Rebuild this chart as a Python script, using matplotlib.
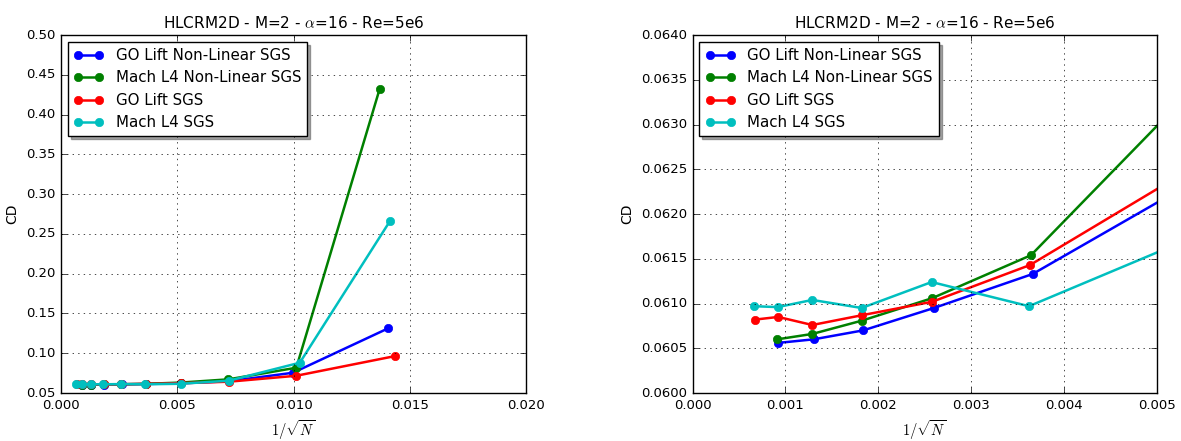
import matplotlib
matplotlib.use("Agg")
import matplotlib.pyplot as plt

plt.style.use("classic")

# 1/sqrt(N) and CD for each run
x_go_nl = [0.000922, 0.001304, 0.001838, 0.0026, 0.003664, 0.00516, 0.00722, 0.00998, 0.01407]
cd_go_nl = [0.06056, 0.06060, 0.06070, 0.06095, 0.06133, 0.06222, 0.0648, 0.0755, 0.1313]

x_mach_nl = [0.000912, 0.001289, 0.001828, 0.002582, 0.003646, 0.00514, 0.00720, 0.01012, 0.01370]
cd_mach_nl = [0.06060, 0.06066, 0.06081, 0.06106, 0.06154, 0.06313, 0.0672, 0.0818, 0.4318]

x_go = [0.000668, 0.000922, 0.001289, 0.001828, 0.002582, 0.003635, 0.00515, 0.00721, 0.01012, 0.01438]
cd_go = [0.06082, 0.06085, 0.06076, 0.06087, 0.06102, 0.06143, 0.06237, 0.0642, 0.0717, 0.0965]

x_mach = [0.000661, 0.000916, 0.001289, 0.001821, 0.002575, 0.003624, 0.00514, 0.00722, 0.01027, 0.01414]
cd_mach = [0.06097, 0.06096, 0.06104, 0.06095, 0.06124, 0.06097, 0.06163, 0.0655, 0.0881, 0.2658]

labels = ["GO Lift Non-Linear SGS", "Mach L4 Non-Linear SGS", "GO Lift SGS", "Mach L4 SGS"]
colors = ["b", "g", "r", "c"]
series = [(x_go_nl, cd_go_nl), (x_mach_nl, cd_mach_nl), (x_go, cd_go), (x_mach, cd_mach)]

title = r"HLCRM2D - M=2 - $\alpha$=16 - Re=5e6"

fig = plt.figure(figsize=(11.81, 4.41), dpi=100, facecolor="white")
ax1 = fig.add_axes([0.0517, 0.1088, 0.3937, 0.8118])
ax2 = fig.add_axes([0.5865, 0.1088, 0.3929, 0.8118])

for ax in (ax1, ax2):
    for (x, y), c, lab in zip(series, colors, labels):
        ax.plot(x, y, "-o", color=c, label=lab, lw=1.8, ms=6, mec=c)
    ax.grid(True)
    ax.set_title(title, fontsize=11)
    ax.set_xlabel(r"$1/\sqrt{N}$", fontsize=10.5, labelpad=5)
    ax.set_ylabel("CD", fontsize=10)
    ax.tick_params(labelsize=9.5)
    ax.legend(loc="upper left", shadow=True, fontsize=10.8, numpoints=2,
              borderaxespad=0.45)

ax1.set_xlim(0, 0.020)
ax1.set_ylim(0.05, 0.50)
ax1.set_xticks([0.000, 0.005, 0.010, 0.015, 0.020])

ax2.set_xlim(0, 0.005)
ax2.set_ylim(0.0600, 0.0640)

fig.savefig("out.png", dpi=100, facecolor="white")
